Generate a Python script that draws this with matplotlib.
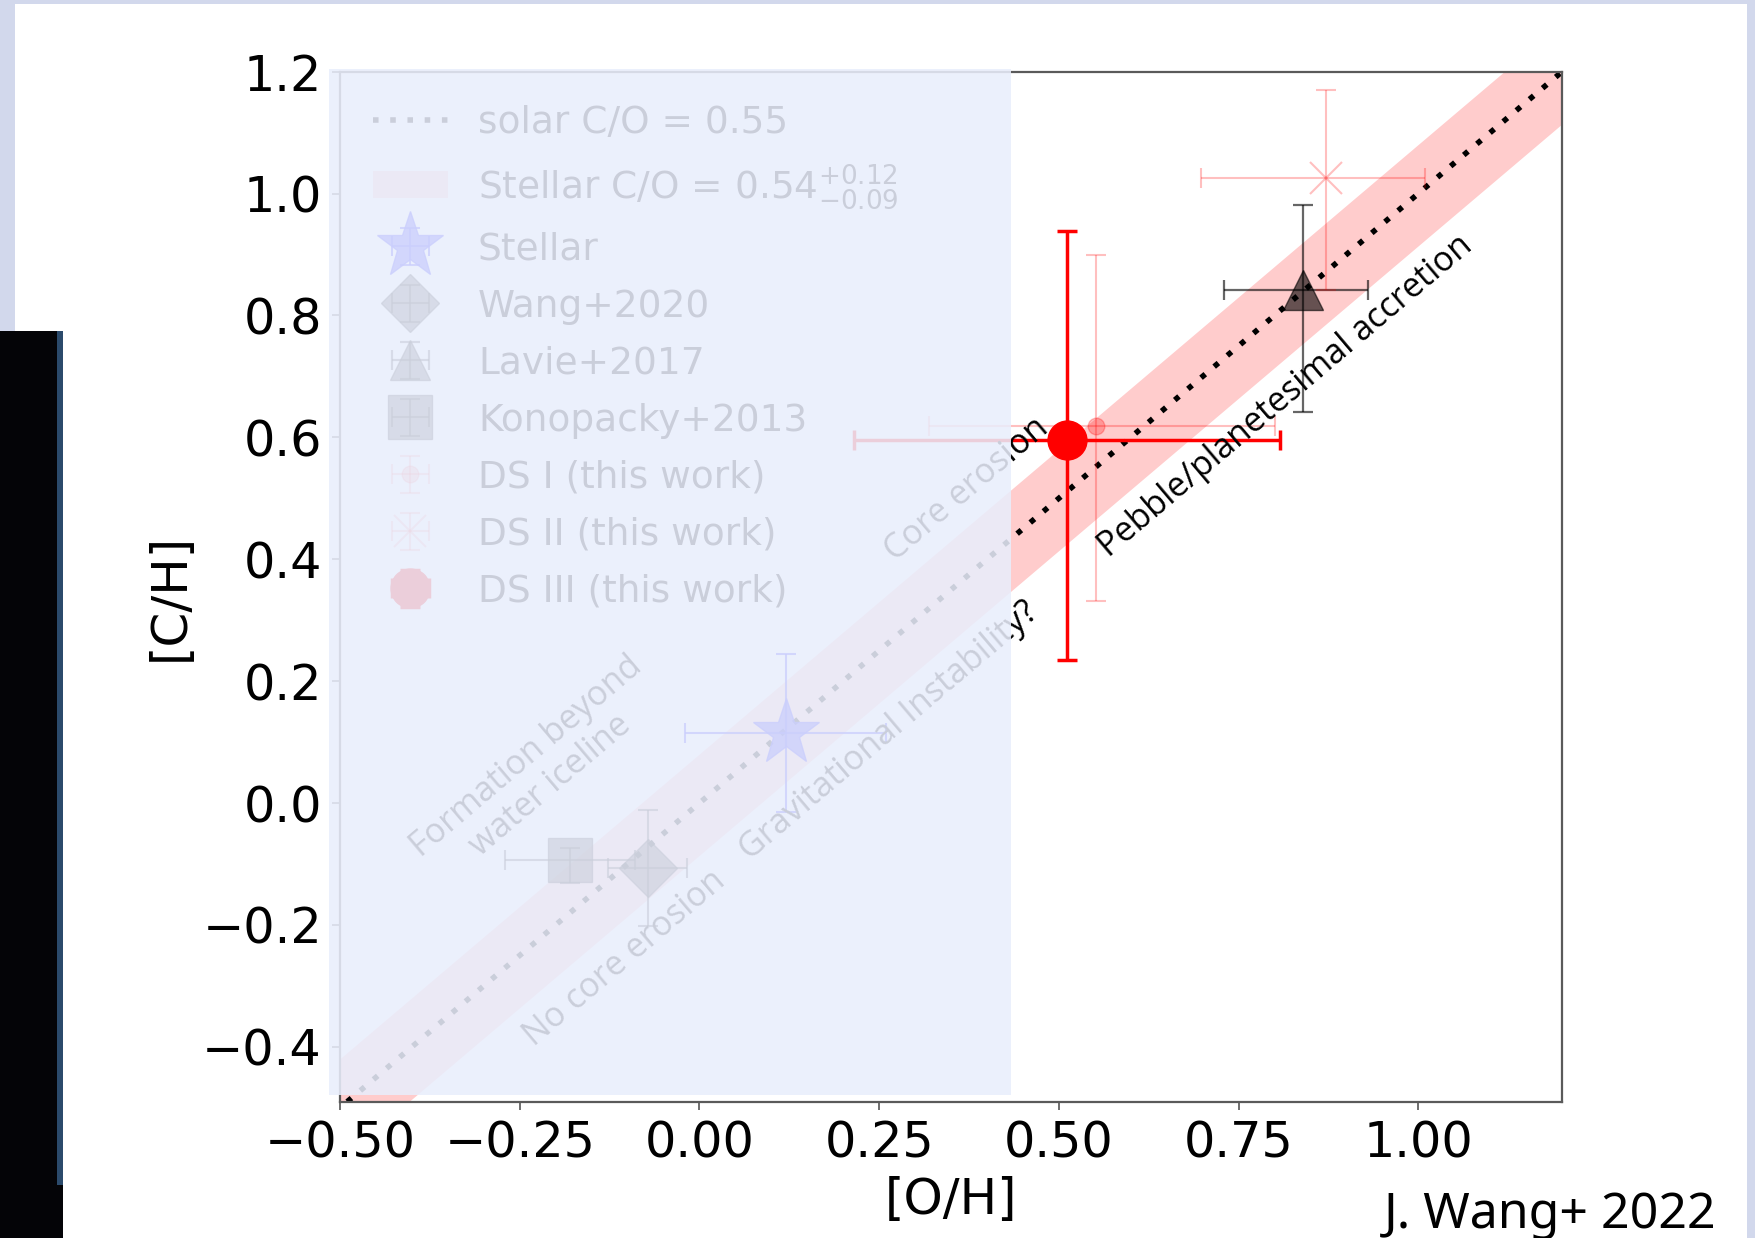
import numpy as np
import matplotlib
matplotlib.use("Agg")
import matplotlib.pyplot as plt
from matplotlib.patches import Rectangle

# ---------------- data ----------------
solar_co = 0.55                      # solar C/O
stellar_co = 0.54                    # stellar C/O
stellar_co_hi = 0.12
stellar_co_lo = 0.09

# [O/H], [C/H] with errors (lower, upper)
stellar_oh, stellar_oh_err = [0.12], [[0.14], [0.14]]
stellar_ch, stellar_ch_err = [0.115], [[0.13], [0.13]]

wang_oh, wang_oh_err = [-0.072], [[0.055], [0.055]]
wang_ch, wang_ch_err = [-0.107], [[0.095], [0.095]]

lavie_oh, lavie_oh_err = [0.84], [[0.11], [0.09]]
lavie_ch, lavie_ch_err = [0.842], [[0.20], [0.14]]

kono_oh, kono_oh_err = [-0.18], [[0.09], [0.09]]
kono_ch, kono_ch_err = [-0.093], [[0.038], [0.02]]

ds1_oh, ds1_oh_err = [0.552], [[0.232], [0.249]]
ds1_ch, ds1_ch_err = [0.618], [[0.287], [0.282]]

ds2_oh, ds2_oh_err = [0.872], [[0.174], [0.138]]
ds2_ch, ds2_ch_err = [1.025], [[0.183], [0.145]]

ds3_oh, ds3_oh_err = [0.512], [[0.297], [0.295]]
ds3_ch, ds3_ch_err = [0.596], [[0.361], [0.342]]

x_ticks = [-0.5, -0.25, 0.0, 0.25, 0.5, 0.75, 1.0]
y_ticks = [-0.4, -0.2, 0.0, 0.2, 0.4, 0.6, 0.8, 1.0, 1.2]

region_labels = [
    ("Pebble/planetesimal accretion", 0.815, 0.668),
    ("Core erosion", 0.372, 0.515),
    ("Gravitational Instability?", 0.264, 0.118),
    ("Formation beyond\nwater iceline", -0.224, 0.052),
    ("No core erosion", -0.104, -0.254),
]

# ---------------- figure ----------------
W, H = 1756, 1238
fig = plt.figure(figsize=(W / 100, H / 100), dpi=100, facecolor="#D2D8EC")


def fx(px):
    return px / W


def fy(py):
    return 1 - py / H


# slide background and dark strip on the left
fig.add_artist(Rectangle((fx(15), 0), fx(1747) - fx(15), fy(4),
                         transform=fig.transFigure, facecolor="white",
                         edgecolor="none", zorder=-10))
fig.add_artist(Rectangle((0, 0), fx(63), fy(331), transform=fig.transFigure,
                         facecolor="#040407", edgecolor="none", zorder=-9))
fig.add_artist(Rectangle((fx(57), fy(1185)), fx(6), fy(331) - fy(1185),
                         transform=fig.transFigure, facecolor="#2B4A6B",
                         edgecolor="none", zorder=-8))

ax = fig.add_axes([fx(340), fy(1101.7), fx(1562) - fx(340), (1101.7 - 71.7) / H])
ax.set_xlim(-0.5, 1.2)
ax.set_ylim(-0.49, 1.2)

# solar C/O line and stellar C/O band
solar_line = ax.axline((0, np.log10(solar_co / solar_co)), slope=1, color="k",
                       lw=4, linestyle=(0, (1, 2.1)), zorder=2,
                       label="solar C/O = 0.55")
oh_band = np.array([-0.7, 1.4])
band = ax.fill_between(oh_band,
                       oh_band + np.log10((stellar_co - stellar_co_lo) / solar_co),
                       oh_band + np.log10((stellar_co + stellar_co_hi) / solar_co),
                       color="red", alpha=0.2, lw=0, zorder=1,
                       label=r"Stellar C/O = $0.54^{+0.12}_{-0.09}$")

eb_star = ax.errorbar(stellar_oh, stellar_ch, xerr=stellar_oh_err, yerr=stellar_ch_err,
                      fmt="*", ms=50, color="blue", alpha=0.75, elinewidth=1.5,
                      capsize=7, capthick=1.5, zorder=4, label="Stellar")
eb_wang = ax.errorbar(wang_oh, wang_ch, xerr=wang_oh_err, yerr=wang_ch_err,
                      fmt="D", ms=30, color="k", alpha=0.6, elinewidth=1.5,
                      capsize=7, capthick=1.5, zorder=4, label="Wang+2020")
eb_lavie = ax.errorbar(lavie_oh, lavie_ch, xerr=lavie_oh_err, yerr=lavie_ch_err,
                       fmt="^", ms=29, color="k", alpha=0.6, elinewidth=1.6,
                       capsize=7, capthick=1.6, zorder=4, label="Lavie+2017")
eb_kono = ax.errorbar(kono_oh, kono_ch, xerr=kono_oh_err, yerr=kono_ch_err,
                      fmt="s", ms=31, color="k", alpha=0.6, elinewidth=1.5,
                      capsize=7, capthick=1.5, zorder=4, label="Konopacky+2013")
eb_ds1 = ax.errorbar(ds1_oh, ds1_ch, xerr=ds1_oh_err, yerr=ds1_ch_err,
                     fmt="o", ms=12, color="red", alpha=0.25, elinewidth=1.5,
                     capsize=7, capthick=1.5, zorder=5, label="DS I (this work)")
eb_ds2 = ax.errorbar(ds2_oh, ds2_ch, xerr=ds2_oh_err, yerr=ds2_ch_err,
                     fmt="x", ms=23, mew=1.5, color="red", alpha=0.25, elinewidth=1.5,
                     capsize=7, capthick=1.5, zorder=5, label="DS II (this work)")
eb_ds3 = ax.errorbar(ds3_oh, ds3_ch, xerr=ds3_oh_err, yerr=ds3_ch_err,
                     fmt="o", ms=28, color="red", elinewidth=2.5,
                     capsize=7, capthick=2.5, zorder=6, label="DS III (this work)")

angle = 40.3
for text, x, y in region_labels:
    ax.text(x, y, text, rotation=angle, rotation_mode="anchor", ha="center",
            va="center", fontsize=24.5, family="Open Sans", color="k",
            multialignment="center", linespacing=1.15, zorder=7)

ax.set_xticks(x_ticks)
ax.set_yticks(y_ticks)
ax.tick_params(labelsize=35.5, length=6, width=1.2, color="#555555", pad=7)
for s in ax.spines.values():
    s.set_color("#5a5a5a")
    s.set_linewidth(1.6)

ax.set_xlabel("[O/H]", fontsize=36)
ax.xaxis.set_label_coords(0.5, -0.072)
ax.set_ylabel("[C/H]", fontsize=36)
ax.yaxis.set_label_coords(-0.120, 0.49)

handles = [solar_line, band, eb_star, eb_wang, eb_lavie, eb_kono, eb_ds1, eb_ds2, eb_ds3]
labels = [h.get_label() for h in handles]
ax.legend(handles, labels, loc="upper left", fontsize=27, frameon=False,
          labelspacing=0.56, handlelength=2.0, borderaxespad=0.5, borderpad=0.38)

# translucent panel over the left part of the plot
fig.add_artist(Rectangle((fx(329), fy(1095)), fx(1011) - fx(329), (1095 - 69) / H,
                         transform=fig.transFigure, facecolor=(233 / 255, 238 / 255, 252 / 255),
                         alpha=0.87, edgecolor="none", zorder=20))

fig.text(fx(1717), fy(1228), "J. Wang+ 2022", ha="right", va="baseline",
         fontsize=36, family="Noto Sans", color="k", zorder=30)

fig.savefig("out.png", dpi=100, facecolor=fig.get_facecolor())
